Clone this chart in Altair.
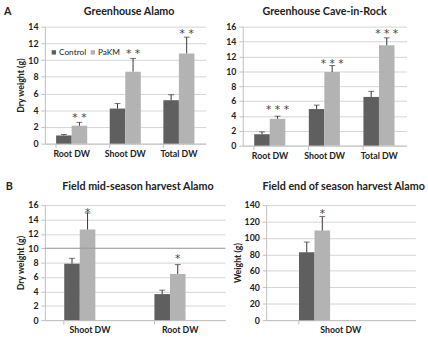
import altair as alt
import pandas as pd

groups = ["Control", "PaKM"]
colors = ["#5f5f5f", "#b3b3b3"]

# Panel A1: Greenhouse Alamo
a1_cats = ["Root DW", "Shoot DW", "Total DW"]
a1_ctrl = [0.98, 4.2, 5.2]
a1_ctrl_err = [0.12, 0.6, 0.64]
a1_pakm = [2.15, 8.62, 10.8]
a1_pakm_err = [0.4, 1.58, 1.95]
a1_star = [3.3, 10.9, 13.3]

# Panel A2: Greenhouse Cave-in-Rock
a2_cats = ["Root DW", "Shoot DW", "Total DW"]
a2_ctrl = [1.53, 4.92, 6.55]
a2_ctrl_err = [0.32, 0.53, 0.75]
a2_pakm = [3.6, 9.9, 13.5]
a2_pakm_err = [0.36, 0.87, 1.0]
a2_star = [5.0, 11.2, 15.25]

# Panel B1: Field mid-season harvest Alamo
b1_cats = ["Shoot DW", "Root DW"]
b1_ctrl = [7.85, 3.62]
b1_ctrl_err = [0.75, 0.55]
b1_pakm = [12.6, 6.42]
b1_pakm_err = [2.3, 1.3]
b1_star = [15.2, 8.8]

# Panel B2: Field end of season harvest Alamo
b2_cats = ["Shoot DW"]
b2_ctrl = [82.5]
b2_ctrl_err = [12.5]
b2_pakm = [109]
b2_pakm_err = [17]
b2_star = [131]

FONT = "Lato"


def panel(cats, ctrl, ctrl_err, pakm, pakm_err, stars, star_text, ymax, ystep,
          width, height, title, ytitle, pad, letter=None, letter_x=-40,
          legend=False, darkline=None, title_y=-14, title_dx=3):
    rows = []
    for c, v, e in zip(cats, ctrl, ctrl_err):
        rows.append({"cat": c, "group": "Control", "value": v, "top": v + e})
    for c, v, e in zip(cats, pakm, pakm_err):
        rows.append({"cat": c, "group": "PaKM", "value": v, "top": v + e})
    df = pd.DataFrame(rows)
    sdf = pd.DataFrame({"cat": cats, "group": ["PaKM"] * len(cats), "star": stars,
                        "txt": [star_text] * len(cats)})

    x = alt.X("cat:N", sort=cats, title=None,
              scale=alt.Scale(paddingInner=pad, paddingOuter=pad / 2),
              axis=alt.Axis(labelAngle=0, labelFont=FONT, labelFontSize=9,
                            labelFontWeight="bold", labelColor="#222",
                            domainColor="#bfbfbf", tickColor="#bfbfbf",
                            tickSize=4, bandPosition=0, labelPadding=2))
    xo = alt.XOffset("group:N", sort=groups, scale=alt.Scale(paddingInner=0, paddingOuter=0))
    yscale = alt.Scale(domain=[0, ymax], nice=False)
    yaxis = alt.Axis(values=list(range(0, ymax + 1, ystep)), labelFont=FONT,
                     labelFontSize=9, labelFontWeight="bold", labelColor="#222",
                     labelOverlap=False, labelPadding=3, grid=True,
                     gridColor="#d4d4d4", gridWidth=1, domainColor="#bfbfbf",
                     tickColor="#bfbfbf", tickSize=4, titleFont=FONT,
                     titleFontSize=9, titleFontWeight="bold", titleColor="#222",
                     titlePadding=2)

    def Y(field):
        return alt.Y(field, title=ytitle, scale=yscale, axis=yaxis)

    if legend:
        leg = alt.Legend(title=None, orient="none", legendX=5, legendY=22,
                         direction="horizontal", symbolType="square", symbolSize=20,
                         symbolStrokeWidth=0, labelFont=FONT, labelFontSize=8.5,
                         labelColor="#222", columnPadding=2, symbolOffset=0,
                         labelOffset=1, padding=0)
    else:
        leg = None
    color = alt.Color("group:N", scale=alt.Scale(domain=groups, range=colors), legend=leg)

    base = alt.Chart(df)
    bars = base.mark_bar().encode(x=x, xOffset=xo, y=Y("value:Q"), color=color)
    err = base.mark_rule(color="#333", strokeWidth=1).encode(
        x=x, xOffset=xo, y=Y("value:Q"), y2="top:Q")
    cap = base.mark_tick(color="#333", size=6, thickness=1).encode(
        x=x, xOffset=xo, y=Y("top:Q"))
    st = alt.Chart(sdf).mark_text(font="DejaVu Sans", fontSize=11, color="#444",
                                  baseline="middle", dy=2).encode(
        x=x, xOffset=xo, y=Y("star:Q"), text="txt:N")
    layers = [bars]
    if darkline is not None:
        ddf = pd.DataFrame({"v": [darkline]})
        layers.append(alt.Chart(ddf).mark_rule(color="#9a9a9a", strokeWidth=1).encode(
            y=Y("v:Q")))
    layers += [err, cap, st]
    tdf = pd.DataFrame({"t": [title]})
    layers.append(alt.Chart(tdf).mark_text(font=FONT, fontSize=11, fontWeight="bold",
                                           color="#222", align="center",
                                           baseline="middle").encode(
        text="t:N", x=alt.value(width / 2 + title_dx), y=alt.value(title_y)))
    if letter is not None:
        ldf = pd.DataFrame({"t": [letter]})
        layers.append(alt.Chart(ldf).mark_text(font=FONT, fontSize=11, fontWeight="bold",
                                               color="#222", align="left",
                                               baseline="middle").encode(
            text="t:N", x=alt.value(letter_x), y=alt.value(title_y)))
    return alt.layer(*layers).properties(width=width, height=height)


a1 = panel(a1_cats, a1_ctrl, a1_ctrl_err, a1_pakm, a1_pakm_err, a1_star, "* *",
           14, 2, 165, 120, "Greenhouse Alamo", "Dry weight (g)", 0.42,
           letter="A", letter_x=-42, legend=True, title_dx=4, title_y=-15)
a2 = panel(a2_cats, a2_ctrl, a2_ctrl_err, a2_pakm, a2_pakm_err, a2_star, "* * *",
           16, 2, 168, 122, "Greenhouse Cave-in-Rock", None, 0.42, title_dx=0,
           title_y=-15)
b1 = panel(b1_cats, b1_ctrl, b1_ctrl_err, b1_pakm, b1_pakm_err, b1_star, "*",
           16, 2, 185, 118, "Field mid-season harvest Alamo", "Dry weight (g)", 0.43,
           letter="B", letter_x=-40, darkline=10, title_y=-18, title_dx=3)
b2 = panel(b2_cats, b2_ctrl, b2_ctrl_err, b2_pakm, b2_pakm_err, b2_star, "*",
           140, 20, 153, 118, "Field end of season harvest Alamo", "Weight (g)", 0.44,
           title_y=-18, title_dx=3)

top = alt.hconcat(a1, a2, spacing=20)
bottom = alt.hconcat(b1, b2, spacing=7)
chart = alt.vconcat(top, bottom, spacing=22).resolve_scale(color="independent").configure_view(
    stroke=None).properties(padding={"left": 4, "top": 2, "right": 2, "bottom": 0})

chart.save("out.html", embed_options={"renderer": "svg", "actions": False})
